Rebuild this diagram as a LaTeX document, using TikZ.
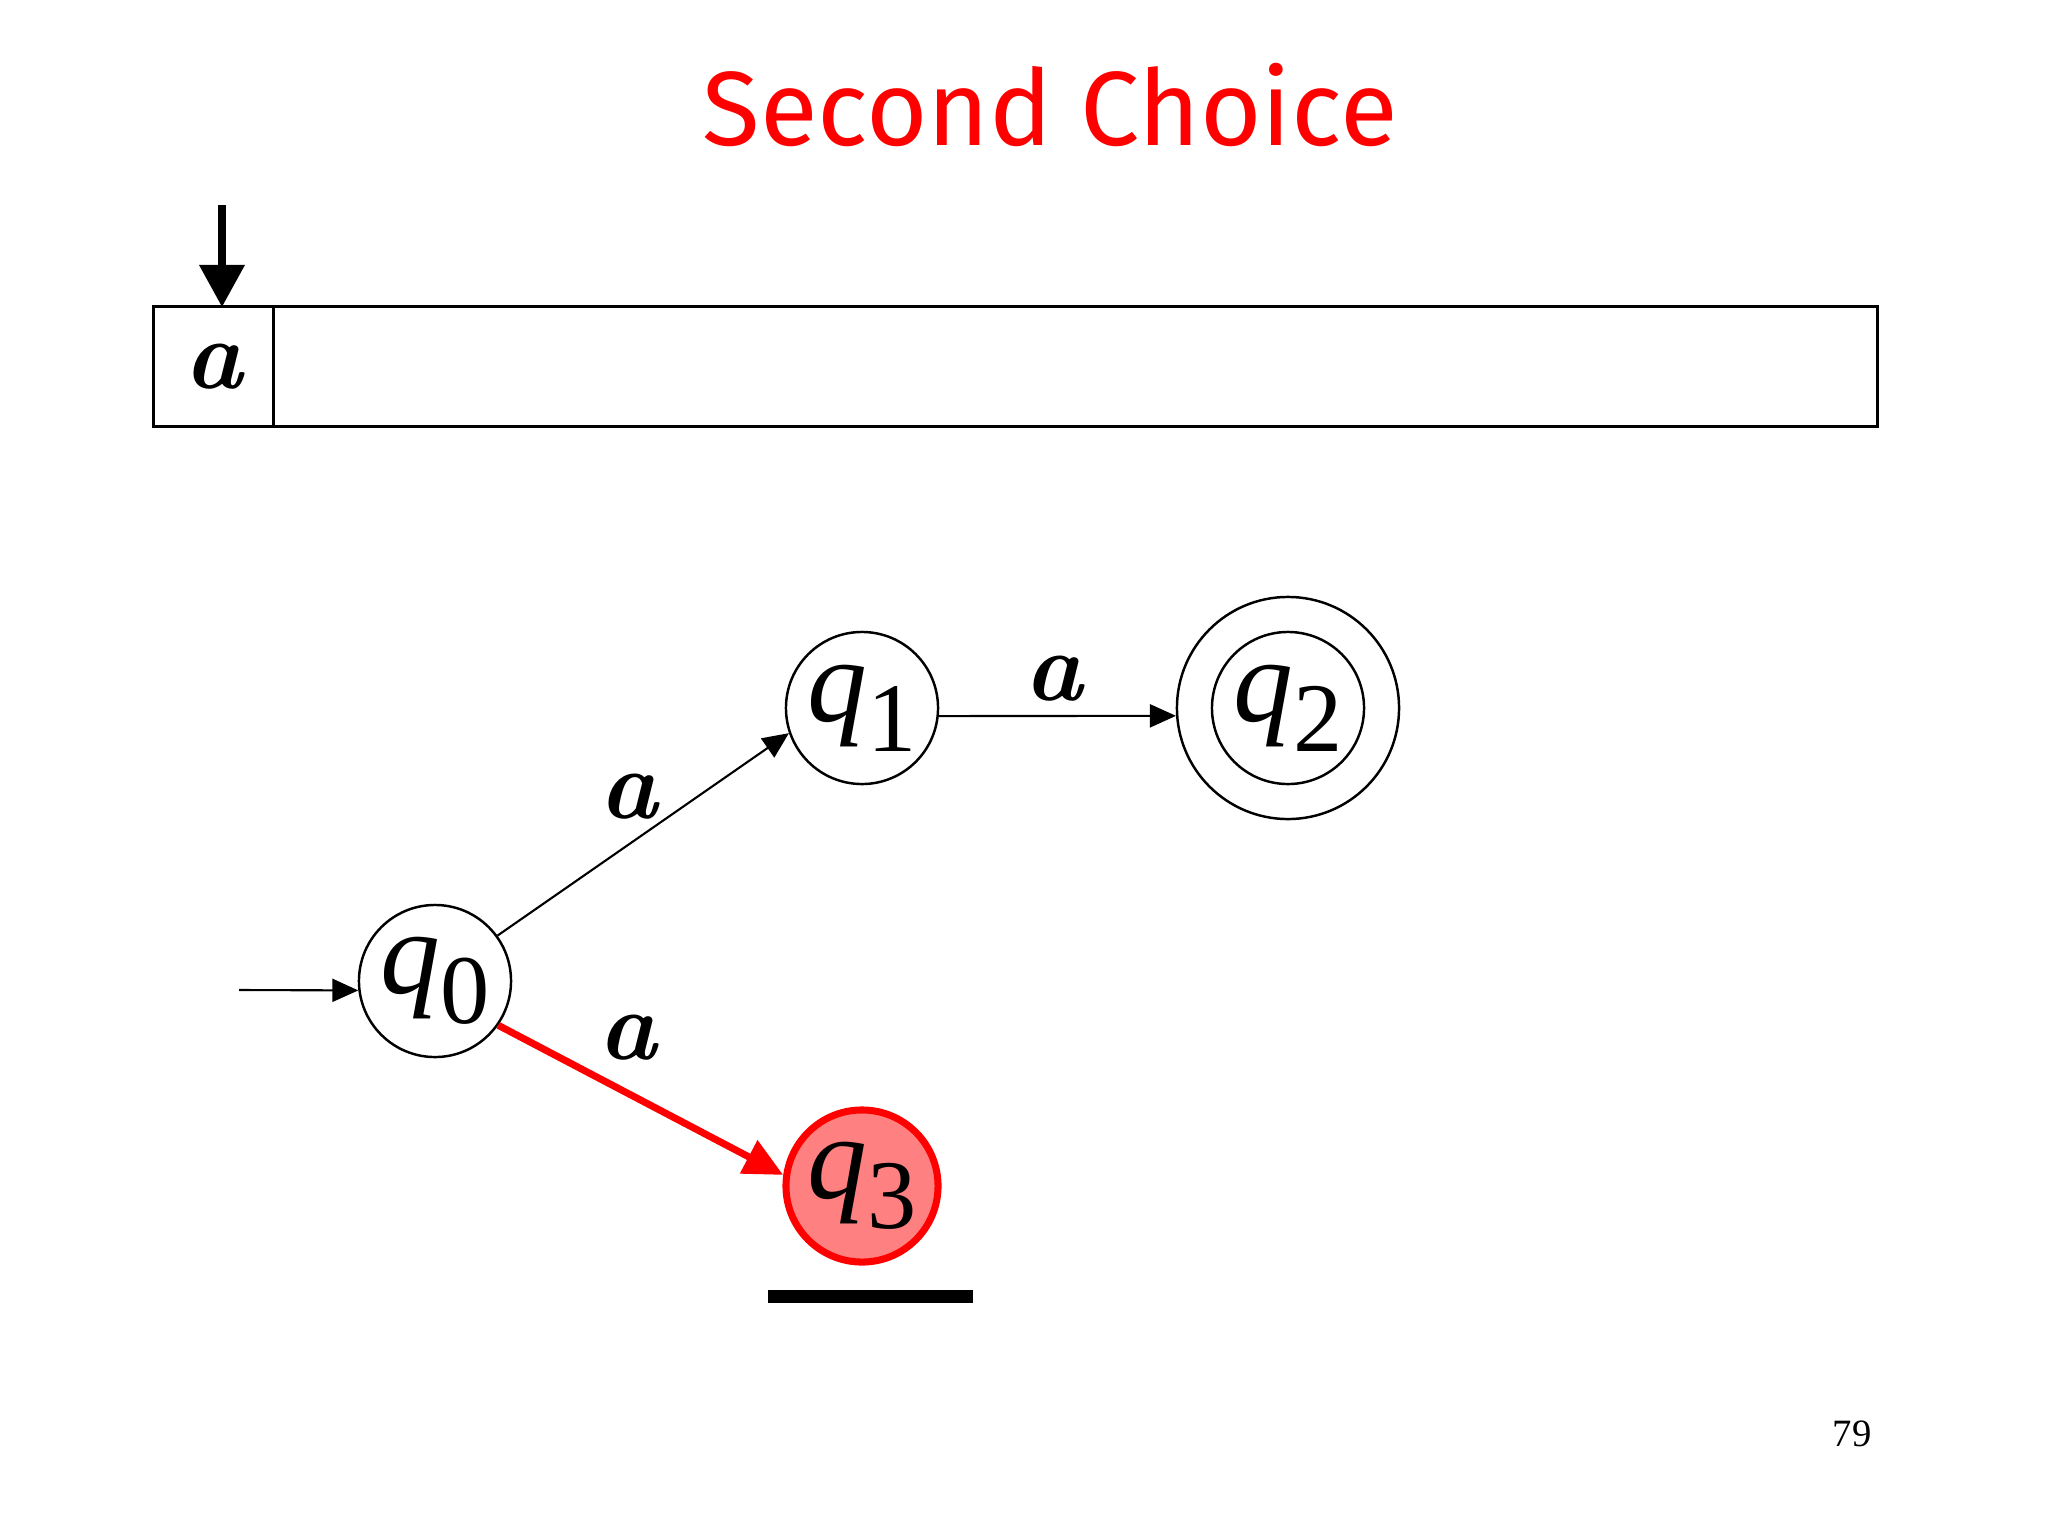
\documentclass[tikz,border=0pt]{standalone}
\usepackage{fontspec}
\newfontfamily\titlefont{Fira Sans}
\newfontfamily\timesfont{Liberation Serif}
\usetikzlibrary{arrows.meta,positioning}

\newcommand{\qstate}[1]{{\timesfont\fontsize{34}{34}\selectfont\itshape q\/\upshape\raisebox{-0.25em}{\fontsize{28}{28}\selectfont #1}}}

\tikzset{
  state/.style={draw, circle, minimum size=1.52cm, inner sep=0pt, line width=0.7pt},
  cell/.style={draw, rectangle, inner sep=0pt, outer sep=0pt, line width=0.85pt},
  lbl/.style={font=\fontsize{28}{28}\selectfont\bfseries\itshape, inner sep=0pt},
  trans/.style={-{Triangle[length=0.26cm,width=0.23cm]}, line width=0.6pt},
}

\begin{document}
\begin{tikzpicture}[x=0.01cm, y=-0.01cm]
  \useasboundingbox (0,0) rectangle (2048,1536);
  \node [text=red, font=\titlefont\fontsize{30}{30}\selectfont] (title) at (1050,105) {Second Choice};

  % tape
  \node [cell, minimum width=1.19cm, minimum height=1.19cm, font=\fontsize{28}{28}\selectfont\bfseries\itshape] (cell) at (213.5,366.5) {a};
  \node [cell, minimum width=16.04cm, minimum height=1.19cm, right=0pt of cell] (rest) {};
  \coordinate (head) at (222,205);
  \draw [line width=2pt, -{Triangle[length=0.42cm,width=0.44cm]}] (head) -- (head |- cell.north);

  % states
  \node [state] (q0) at (435,981) {\qstate{0}};
  \node [state] (q1) at (862,708) {\qstate{1}};
  \node [state, minimum size=2.22cm] (q2) at (1288,708) {\qstate{2}};
  \draw [line width=0.7pt] (q2.center) circle [radius=0.76cm];
  \node [state, draw=red, fill=red!50, line width=2pt] (q3) at (862,1186) {\qstate{3}};

  % transitions
  \coordinate (init) at (239,990);
  \draw [trans] (init) -- (q0.187);
  \draw [trans] (q0.36) -- node [lbl, xshift=-0.15cm, yshift=0.38cm] {a} (q1.199);
  \draw [trans] (q1.-6) -- node [lbl, xshift=-0.04cm, yshift=0.37cm] {a} (q2.184);
  \draw [red, line width=2pt, -{Triangle[length=0.39cm,width=0.36cm]}] (q0.-35) -- node [lbl, text=black, xshift=-0.13cm, yshift=0.62cm] {a} (q3.172);

  % current position
  \coordinate (barL) at (768,1296);
  \coordinate (barR) at (973,1296);
  \draw [line width=0.13cm] (barL) -- (barR);

  \node [font=\timesfont\fontsize{11}{11}\selectfont] (page) at (1852,1434) {79};
\end{tikzpicture}
\end{document}
